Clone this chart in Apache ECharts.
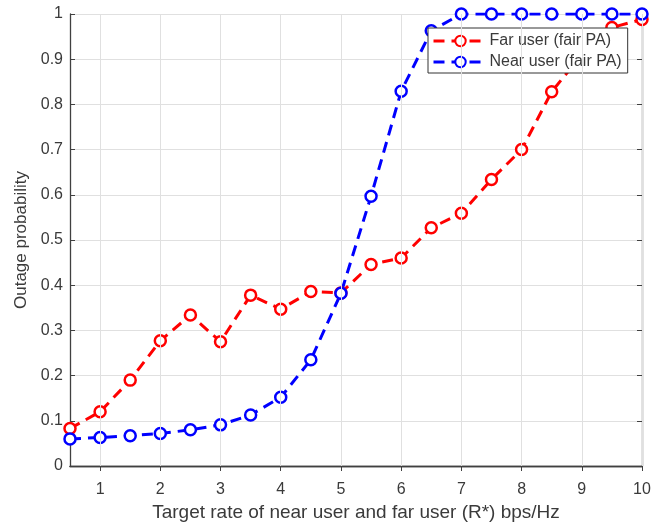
<!DOCTYPE html>
<html><head><meta charset="utf-8">
<script src="https://cdn.jsdelivr.net/npm/echarts@6/dist/echarts.min.js"></script>
<style>html,body{margin:0;padding:0;background:#fff}#c{width:665px;height:527px}</style>
</head><body><div id="c"></div>
<script>
const rates = [0.5,1,1.5,2,2.5,3,3.5,4,4.5,5,5.5,6,6.5,7,7.5,8,8.5,9,9.5,10];
const farUser = [0.083,0.12,0.19,0.277,0.334,0.275,0.378,0.347,0.386,0.383,0.446,0.46,0.527,0.559,0.634,0.70,0.828,0.91,0.97,0.988];
const nearUser = [0.06,0.063,0.067,0.072,0.08,0.091,0.113,0.152,0.235,0.382,0.597,0.829,0.963,1,1,1,1,1,1,1];
const xTicks = [1,2,3,4,5,6,7,8,9,10];
const seriesNames = ['Far user (fair PA)','Near user (fair PA)'];
const colors = ['#ff0000','#0000ff'];
const FONT = 'Liberation Sans';
const TXT = '#3a3a3a';

const chart = echarts.init(document.getElementById('c'));
function pairs(v){ return rates.map((r,i)=>[r,v[i]]); }
const axisLineStyle = {show:true, lineStyle:{color:'#404040', width:1.3}};
const gridLine = {show:true, lineStyle:{color:'#e0e0e0', width:1}};
function mkSeries(name, vals, color){
  return {
    name, type:'line', data:pairs(vals), symbol:'circle', symbolSize:11,
    itemStyle:{color:'#fff', borderColor:color, borderWidth:2.5},
    lineStyle:{color, width:3, type:[11,7]},
    emphasis:{disabled:true}, z:3
  };
}
chart.setOption({
  animation:false,
  textStyle:{fontFamily:FONT},
  grid:{left:70, right:23, top:14, bottom:61, containLabel:false, outerBoundsMode:'none'},
  legend:{
    orient:'vertical', left:428, top:28, itemWidth:54, itemHeight:13, itemGap:3,
    backgroundColor:'#fff', borderColor:'#333', borderWidth:1, padding:[4,6,2,4],
    lineStyle:{width:3},
    textStyle:{fontFamily:FONT, fontSize:16, lineHeight:18, color:TXT, padding:[0,0,0,-3]},
    data:seriesNames
  },
  xAxis:[{
    type:'value', min:0.5, max:10, interval:0.5,
    name:'Target rate of near user and far user (R*) bps/Hz', nameLocation:'middle', nameGap:35,
    nameTextStyle:{fontSize:19, color:TXT, fontFamily:FONT},
    axisLine:axisLineStyle,
    axisTick:{show:true, inside:true, length:5, customValues:xTicks, lineStyle:{color:'#404040'}},
    axisLabel:{fontSize:16, color:TXT, margin:16, customValues:xTicks, fontFamily:FONT},
    splitLine:{show:false}
  },{
    type:'value', position:'top', min:0.5, max:10, interval:0.5,
    axisLine:axisLineStyle,
    axisTick:{show:true, inside:true, length:5, customValues:xTicks, lineStyle:{color:'#404040'}},
    axisLabel:{show:false}, splitLine:{show:false}
  }],
  yAxis:[{
    type:'value', min:0, max:1, interval:0.1,
    name:'Outage probability', nameLocation:'middle', nameGap:35,
    nameTextStyle:{fontSize:17, color:TXT, fontFamily:FONT},
    axisLine:axisLineStyle,
    axisTick:{show:true, inside:true, length:5, lineStyle:{color:'#404040'}},
    axisLabel:{fontSize:16, color:TXT, margin:7, fontFamily:FONT, formatter:v=>String(+v.toFixed(1))},
    splitLine:gridLine
  },{
    type:'value', position:'right', min:0, max:1, interval:0.1,
    axisLine:axisLineStyle,
    axisTick:{show:true, inside:true, length:5, lineStyle:{color:'#404040'}},
    axisLabel:{show:false}, splitLine:{show:false}
  }],
  series:[
    {
      type:'line', data:[], silent:true, z:1,
      markLine:{silent:true, symbol:'none', animation:false, label:{show:false},
        lineStyle:{color:'#e0e0e0', width:1, type:'solid'},
        data:xTicks.map(v=>({xAxis:v}))}
    },
    mkSeries(seriesNames[0], farUser, colors[0]),
    mkSeries(seriesNames[1], nearUser, colors[1])
  ]
});
</script></body></html>
